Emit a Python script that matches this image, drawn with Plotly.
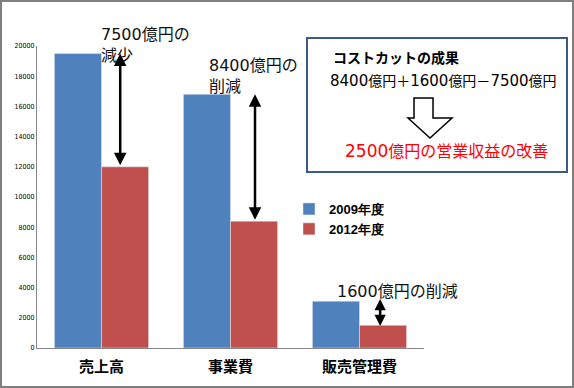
import re
import plotly.graph_objects as go

categories = ["売上高", "事業費", "販売管理費"]
values_2009 = [19500, 16800, 3100]
values_2012 = [12000, 8400, 1500]
series_names = ["2009年度", "2012年度"]
change_labels = ["7500億円の<br>減少", "8400億円の<br>削減", "1600億円の削減"]
box_title = "コストカットの成果"
box_formula = "8400億円＋1600億円－7500億円"
box_result = "2500億円の営業収益の改善"
y_ticks = list(range(0, 20001, 2000))

W, H = 574, 388
L, R, T, B = 37, 424, 46, 348
PW, PH = R - L, B - T

def px(x):
    return (x - L) / PW

def py(y):
    return (B - y) / PH

def wide_digits(text, size):
    return re.sub(r"(\d+)",
                  lambda m: f'<span style="font-family:DejaVu Sans;font-size:{size}px">{m.group(1)}</span>',
                  text)

BLUE = "#4F81BD"
RED = "#C0504D"
JP = "Noto Sans CJK JP"

fig = go.Figure()
fig.add_trace(go.Bar(x=categories, y=values_2009, name=series_names[0], marker_color=BLUE))
fig.add_trace(go.Bar(x=categories, y=values_2012, name=series_names[1], marker_color=RED))

annotations = []
arrow_offsets = [0.145, 0.19, 0.16]
arrow_sizes = [1.0, 1.0, 0.9]
arrow_pad = [0, 0, 150]
text_pos = [(99, 19), (207, 50), (335, 276)]
for i, cat in enumerate(categories):
    annotations.append(dict(
        x=i + arrow_offsets[i], y=values_2009[i] + arrow_pad[i],
        ax=i + arrow_offsets[i], ay=values_2012[i] - arrow_pad[i],
        xref="x", yref="y", axref="x", ayref="y",
        showarrow=True, arrowhead=2, startarrowhead=2, arrowside="end+start",
        arrowsize=arrow_sizes[i], startarrowsize=arrow_sizes[i], arrowwidth=2.5,
        arrowcolor="black", text="",
    ))
    tx, ty = text_pos[i]
    annotations.append(dict(
        x=px(tx), y=py(ty), xref="paper", yref="paper", xanchor="left", yanchor="top",
        text=wide_digits(change_labels[i], 16), showarrow=False, align="left",
        font=dict(family=JP, size=16, color="#111"),
    ))

annotations += [
    dict(x=px(331), y=py(57), xref="paper", yref="paper", xanchor="left", yanchor="middle",
         text=f"<b>{box_title}</b>", showarrow=False,
         font=dict(family=JP, size=14, color="black")),
    dict(x=px(443), y=py(80), xref="paper", yref="paper", xanchor="center", yanchor="middle",
         text=wide_digits(box_formula, 15), showarrow=False,
         font=dict(family=JP, size=14, color="black")),
    dict(x=px(446), y=py(150), xref="paper", yref="paper", xanchor="center", yanchor="middle",
         text=wide_digits(box_result, 17), showarrow=False,
         font=dict(family=JP, size=16, color="#FF0000")),
]

arrow_pts = [(414, 98), (433, 98), (433, 118), (452, 118), (430, 138), (408, 118), (414, 118)]
path = "M " + " L ".join(f"{px(a):.4f},{py(b):.4f}" for a, b in arrow_pts) + " Z"

shapes = [
    dict(type="rect", xref="paper", yref="paper", x0=px(1), x1=px(573), y0=py(387), y1=py(1),
         line=dict(color="#7F7F7F", width=2), fillcolor="rgba(0,0,0,0)", layer="below"),
    dict(type="rect", xref="paper", yref="paper", x0=px(307), x1=px(567), y0=py(172), y1=py(38),
         line=dict(color="#3B5A86", width=2), fillcolor="white"),
    dict(type="path", xref="paper", yref="paper", path=path,
         line=dict(color="black", width=1.5), fillcolor="white"),
]

fig.update_layout(
    width=W, height=H, autosize=False,
    margin=dict(l=L, r=W - R, t=T, b=H - B, pad=0),
    paper_bgcolor="white", plot_bgcolor="white",
    barmode="group", bargap=0.27, bargroupgap=0,
    showlegend=True,
    legend=dict(x=px(289), y=py(194), xanchor="left", yanchor="top",
                font=dict(family="Liberation Sans", size=13, weight="bold", color="black"),
                bgcolor="rgba(0,0,0,0)", tracegroupgap=0, itemwidth=30),
    xaxis=dict(showline=True, linecolor="#868686", linewidth=1, ticks="",
               tickfont=dict(family=JP, size=15, color="black", weight="bold"),
               ticklabelstandoff=5, showgrid=False),
    yaxis=dict(range=[0, 20000], tickvals=y_ticks, tickformat="d", showline=True,
               linecolor="#868686", linewidth=1, showgrid=False, zeroline=False, ticks="",
               tickfont=dict(family="DejaVu Sans Condensed", size=7, color="black")),
    annotations=annotations,
    shapes=shapes,
)

fig.write_html("out.html", config={"displayModeBar": False},
               post_script="document.body.style.margin='0px';")
